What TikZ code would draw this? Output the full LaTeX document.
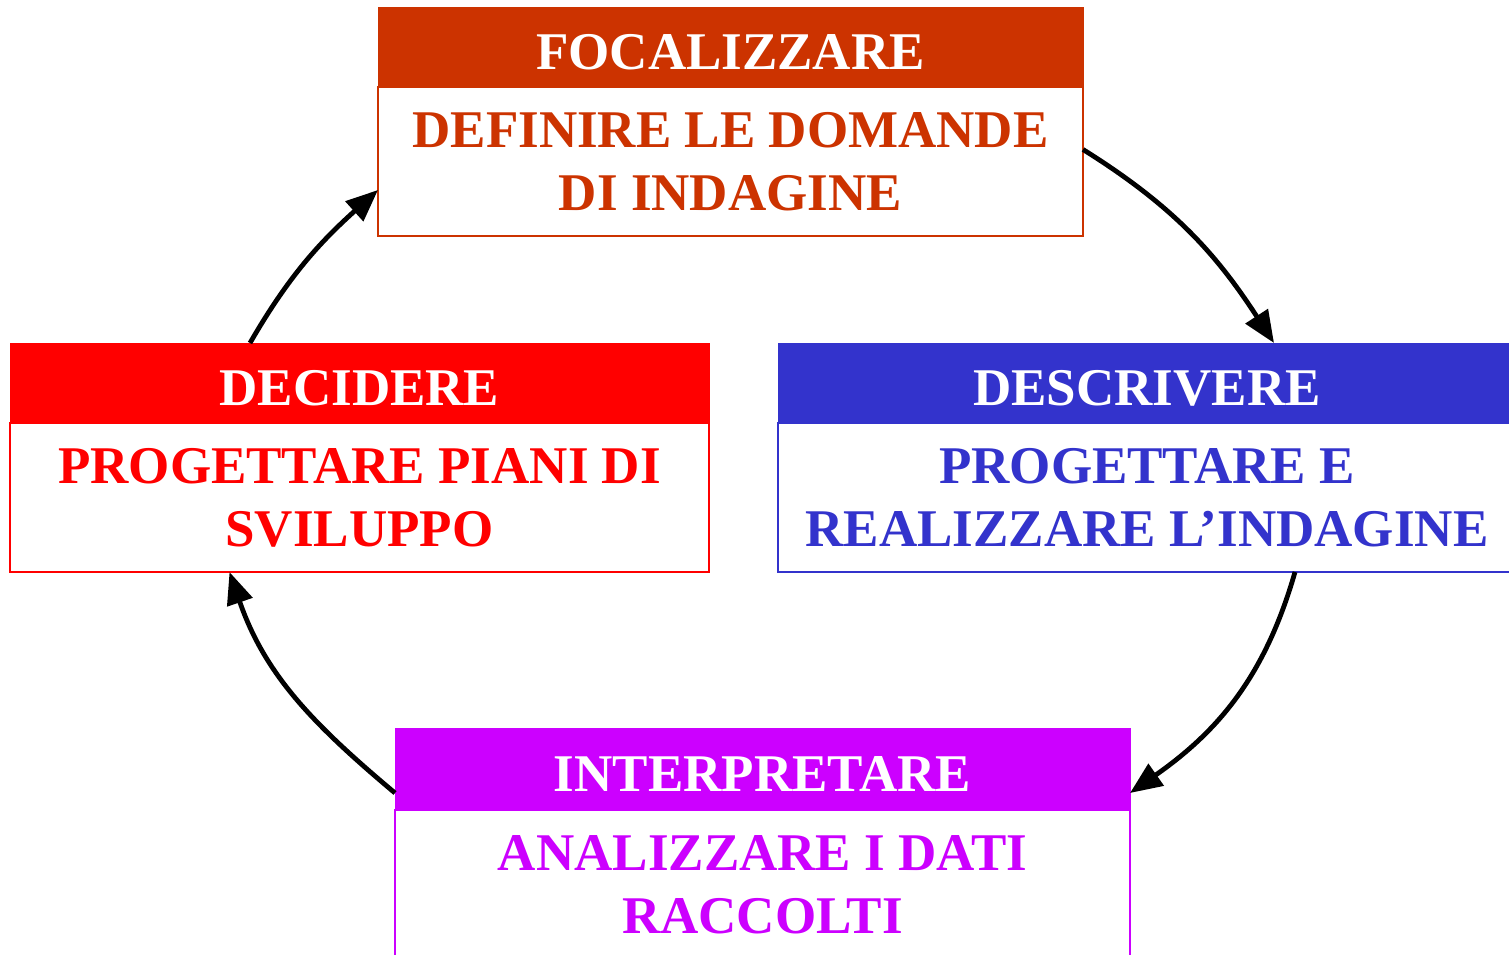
\documentclass[tikz,border=0pt]{standalone}
\usepackage{fontspec}
\setmainfont{Liberation Serif}
\usetikzlibrary{arrows.meta,positioning}

\definecolor{focus}{HTML}{CC3300}
\definecolor{decide}{HTML}{FF0000}
\definecolor{describe}{HTML}{3333CC}
\definecolor{interpret}{HTML}{CC00FF}

\begin{document}
\begin{tikzpicture}[
  x=1pt, y=1pt,
  font=\bfseries\fontsize{53}{63}\selectfont,
  head/.style={fill=#1, draw=#1, text=white, minimum height=80pt, text height=45pt, text depth=0pt, inner sep=0pt, outer sep=0pt},
  body/.style={draw=#1, fill=white, text=#1, line width=1.5pt, minimum height=149pt, align=center, inner sep=0pt, outer sep=0pt},
  arr/.style={-{Triangle[length=32pt,width=26pt]}, line width=4.8pt}
]
\useasboundingbox (0,0) rectangle (1509,954);
% the four steps of the cycle
\node[head=focus, minimum width=705pt] (focH) at (730.5,907) {FOCALIZZARE};
\node[body=focus, minimum width=705pt, below=0pt of focH] (focB) {DEFINIRE LE DOMANDE\\DI INDAGINE};
\node[head=decide, minimum width=699pt] (decH) at (359.5,571) {DECIDERE};
\node[body=decide, minimum width=699pt, below=0pt of decH] (decB) {PROGETTARE PIANI DI\\SVILUPPO};
\node[head=describe, minimum width=738pt] (desH) at (1147,571) {DESCRIVERE};
\node[body=describe, minimum width=738pt, below=0pt of desH] (desB) {PROGETTARE E\\REALIZZARE L’INDAGINE};
\node[head=interpret, minimum width=735pt, minimum height=82pt] (intH) at (762.5,185) {INTERPRETARE};
\node[body=interpret, minimum width=735pt, below=0pt of intH] (intB) {ANALIZZARE I DATI\\RACCOLTI};
% arrows round the cycle
\draw[arr] ([yshift=12pt]focB.east) to[out=-32, in=123] ([xshift=127pt]desH.north);
\draw[arr] ([xshift=148pt]desB.south) to[out=-106, in=35] ([yshift=-24pt]intH.east);
\draw[arr] ([yshift=-24pt]intH.west) to[out=140, in=-71] ([xshift=-130pt]decB.south);
\draw[arr] ([xshift=-109.5pt]decH.north) to[out=60, in=222] ([yshift=-28.5pt]focB.west);
\end{tikzpicture}
\end{document}
